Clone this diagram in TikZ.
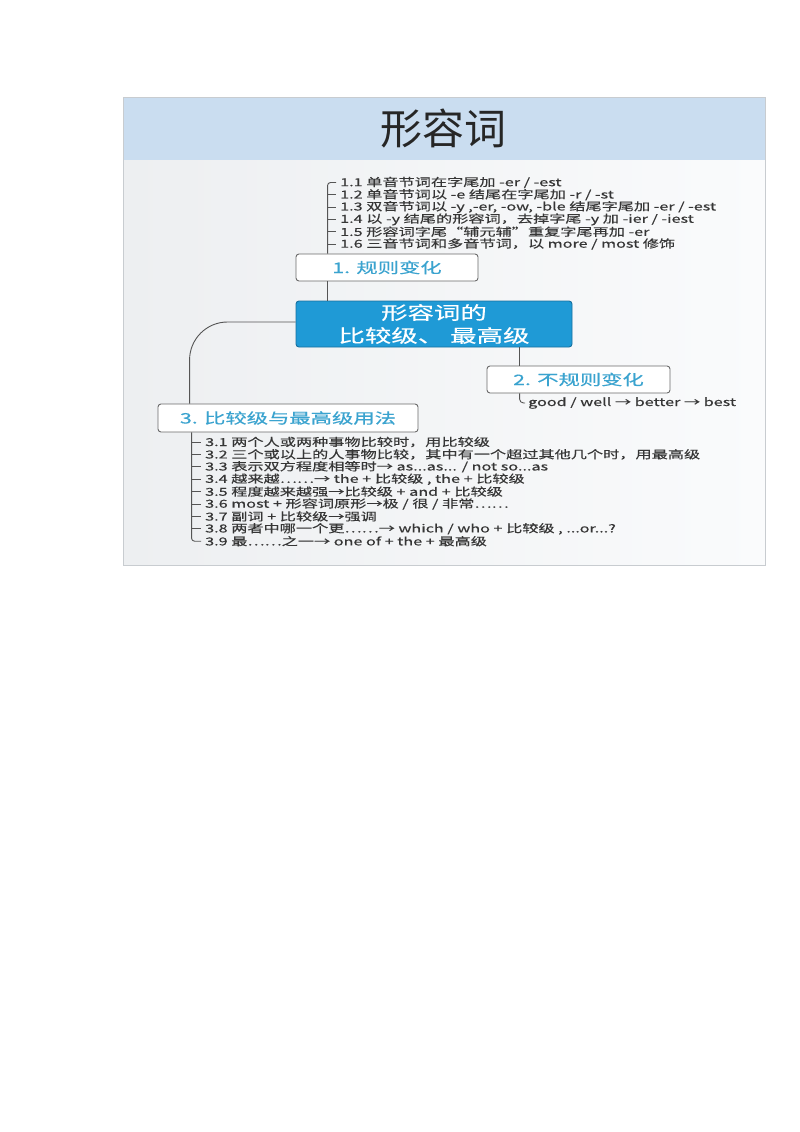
\documentclass[tikz,border=0pt]{standalone}
\usepackage{fontspec}
\setmainfont{Noto Sans CJK SC}
\newfontfamily\titlefont{Noto Sans CJK SC}
\newfontfamily\wbfont[FakeStretch=1.47,FakeBold=0.4]{Noto Sans CJK SC}
\definecolor{bodyL}{HTML}{EDEFF1}
\definecolor{bodyR}{HTML}{FAFBFC}
\definecolor{head}{HTML}{CADDF0}
\definecolor{frameC}{HTML}{C8CCD0}
\definecolor{hub}{HTML}{1F9AD6}
\definecolor{hubB}{HTML}{17709F}
\definecolor{lbl}{HTML}{3AA3CF}
\definecolor{boxB}{HTML}{6A6A6A}
\definecolor{txt}{HTML}{363636}
\definecolor{ln}{HTML}{555555}
\tikzset{
  boxnode/.style={draw=boxB, fill=white, rounded corners=3pt, line width=0.9pt,
    minimum height=27pt, inner sep=0pt, text=lbl, font=\wbfont\fontsize{14.5}{16}\selectfont},
  hubnode/.style={draw=hubB, fill=hub, rounded corners=3pt, line width=0.9pt,
    text=white, align=center, font=\wbfont\fontsize{18}{23}\selectfont,
    minimum width=276pt, minimum height=46pt, inner sep=0pt},
  itemtext/.style={anchor=west, inner sep=0pt, text=txt, font=\wbfont\fontsize{11}{12}\selectfont},
  conn/.style={draw=ln, line width=0.9pt},
}
\begin{document}
\begin{tikzpicture}[x=1pt,y=-1pt]
\useasboundingbox (0,0) rectangle (800,1132);
\fill[white] (0,0) rectangle (800,1132);
% frame
\shade[left color=bodyL, right color=bodyR] (123,160) rectangle (765,565);
\fill[head] (123,97) rectangle (765,160);
\draw[frameC, line width=0.8pt] (123,97) rectangle (765,565);
\node[font=\titlefont\fontsize{42}{46}\selectfont, text=black!85, inner sep=0pt] (title) at (443,129) {形容词};

% main nodes
\node[hubnode] (hub) at (434,324) {形容词的\\比较级、 最高级};
\node[boxnode, minimum width=182pt] (n1) at (387,267.5) {1. 规则变化};
\node[boxnode, minimum width=183pt] (n2) at (578.5,379.5) {2. 不规则变化};
\node[boxnode, minimum width=260pt, minimum height=28pt] (n3) at (288,418) {3. 比较级与最高级用法};

% items of branch 1
\node[itemtext] (i11) at (340,182.5) {1.1 单音节词在字尾加 -er / -est};
\node[itemtext] (i12) at (340,194.8) {1.2 单音节词以 -e 结尾在字尾加 -r / -st};
\node[itemtext] (i13) at (340,207.1) {1.3 双音节词以 -y ,-er, -ow, -ble 结尾字尾加 -er / -est};
\node[itemtext] (i14) at (340,219.4) {1.4 以 -y 结尾的形容词，去掉字尾 -y 加 -ier / -iest};
\node[itemtext] (i15) at (340,231.7) {1.5 形容词字尾“辅元辅”重复字尾再加 -er};
\node[itemtext] (i16) at (340,244) {1.6 三音节词和多音节词，以 more / most 修饰};

% item of branch 2
\node[itemtext] (good) at (528,403) {good / well → better → best};

% items of branch 3
\node[itemtext] (i31) at (205,442) {3.1 两个人或两种事物比较时，用比较级};
\node[itemtext] (i32) at (205,454.4) {3.2 三个或以上的人事物比较，其中有一个超过其他几个时，用最高级};
\node[itemtext] (i33) at (205,466.8) {3.3 表示双方程度相等时→ as...as... / not so...as};
\node[itemtext] (i34) at (205,479.2) {3.4 越来越⋯⋯→ the + 比较级 , the + 比较级};
\node[itemtext] (i35) at (205,491.6) {3.5 程度越来越强→比较级 + and + 比较级};
\node[itemtext] (i36) at (205,504) {3.6 most + 形容词原形→极 / 很 / 非常⋯⋯};
\node[itemtext] (i37) at (205,516.4) {3.7 副词 + 比较级→强调};
\node[itemtext] (i38) at (205,528.8) {3.8 两者中哪一个更⋯⋯→ which / who + 比较级 , ...or...?};
\node[itemtext] (i39) at (205,541.2) {3.9 最⋯⋯之一→ one of + the + 最高级};

% connector coordinates
\coordinate (b1) at ([xshift=32pt]n1.north west);
\coordinate (b1s) at ([xshift=32pt]n1.south west);
\coordinate (b2) at ([xshift=33pt]n2.north west);
\coordinate (b3) at ([xshift=32pt]n3.north west);
\coordinate (b4) at ([xshift=34pt]n3.south west);

% branch 1
\draw[conn] (b1s) -- (b1s |- hub.north);
\draw[conn, rounded corners=3pt] (b1) |- ([xshift=-4pt]i11.west);
\foreach \n in {i12,i13,i14,i15,i16}
  \draw[conn] (b1 |- \n.west) -- ([xshift=-4pt]\n.west);

% branch 2
\draw[conn] (b2 |- hub.south) -- (b2);
\draw[conn, rounded corners=4pt] (b2 |- n2.south) |- ([xshift=-3pt]good.west);

% branch 3
\draw[conn, rounded corners=38pt] ([yshift=2pt]hub.west) -| (b3);
\draw[conn, rounded corners=3pt] (b4) |- ([xshift=-4pt]i39.west);
\foreach \n in {i31,i32,i33,i34,i35,i36,i37,i38}
  \draw[conn] (b4 |- \n.west) -- ([xshift=-4pt]\n.west);
\end{tikzpicture}
\end{document}
